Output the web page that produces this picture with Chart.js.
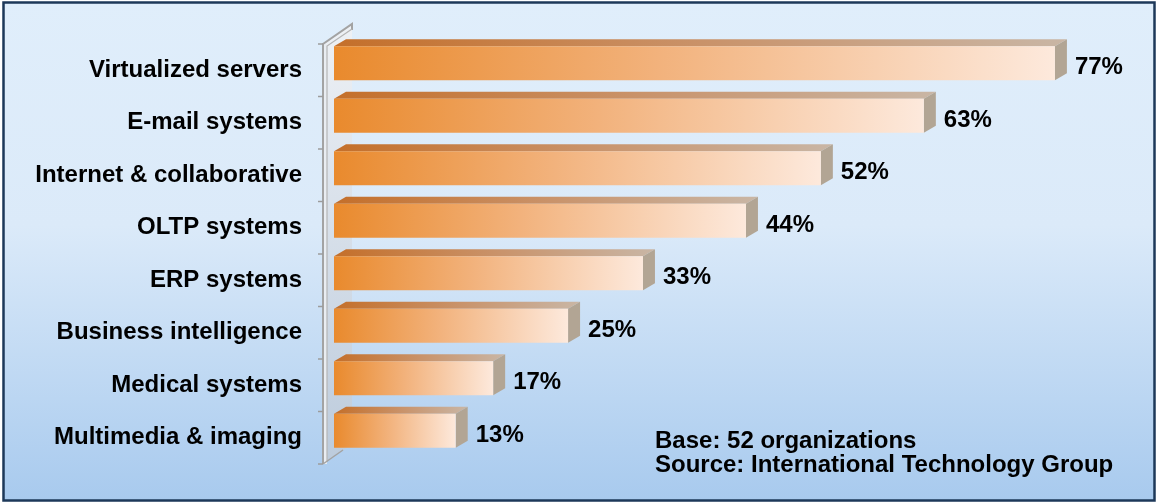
<!DOCTYPE html>
<html>
<head>
<meta charset="utf-8">
<script src="https://cdn.jsdelivr.net/npm/chart.js@4.4.1/dist/chart.umd.min.js"></script>
<style>
  html, body { margin: 0; padding: 0; background: #ffffff; }
  #wrap { width: 1156px; height: 504px; position: relative; }
</style>
</head>
<body>
<div id="wrap"><canvas id="c" width="1156" height="504"></canvas></div>
<script>
// ---- data ----
const categories = [
  'Virtualized servers',
  'E-mail systems',
  'Internet & collaborative',
  'OLTP systems',
  'ERP systems',
  'Business intelligence',
  'Medical systems',
  'Multimedia & imaging'
];
const values = [77, 63, 52, 44, 33, 25, 17, 13];
const noteLines = ['Base: 52 organizations', 'Source: International Technology Group'];

// ---- style ----
const FONT = '"Liberation Sans", Arial, "DejaVu Sans", sans-serif';
const DX = 12, DY = 7;          // bar depth
const WDX = 29, WDY = 20;       // wall depth
const LABEL_SHIFT = 7;          // category plane vs bar front plane

const bgPlugin = {
  id: 'bg',
  beforeDraw(chart) {
    const ctx = chart.ctx;
    const W = chart.width, H = chart.height;
    ctx.save();
    ctx.fillStyle = '#ffffff';
    ctx.fillRect(0, 0, W, H);
    const g = ctx.createLinearGradient(0, 0, 0, 501);
    g.addColorStop(0, '#e0eefb');
    g.addColorStop(0.45, '#dbeaf9');
    g.addColorStop(1, '#a8caee');
    ctx.fillStyle = g;
    ctx.fillRect(3, 2, 1151, 499);
    ctx.strokeStyle = '#1d3859';
    ctx.lineWidth = 2.5;
    ctx.strokeRect(3.5, 2.5, 1151, 498);
    ctx.restore();
  }
};

const wallPlugin = {
  id: 'wall',
  beforeDatasetsDraw(chart) {
    const ctx = chart.ctx;
    const area = chart.chartArea;
    const fx = area.left - 11;
    const top = area.top + LABEL_SHIFT;
    const bot = area.bottom + LABEL_SHIFT;
    ctx.save();
    // wall face
    const wg = ctx.createLinearGradient(0, top - WDY, 0, bot);
    wg.addColorStop(0, '#eef1f5');
    wg.addColorStop(1, '#bccbdc');
    ctx.beginPath();
    ctx.moveTo(fx, top);
    ctx.lineTo(fx + WDX, top - WDY);
    ctx.lineTo(fx + WDX, bot - WDY);
    ctx.lineTo(fx, bot);
    ctx.closePath();
    ctx.fillStyle = wg;
    ctx.fill();
    // slab front strip
    ctx.fillStyle = '#e9edf2';
    ctx.fillRect(fx, top, 4, bot - top);
    ctx.strokeStyle = '#a3a3a3';
    ctx.lineWidth = 2;
    ctx.beginPath();
    ctx.moveTo(fx, bot);
    ctx.lineTo(fx, top);
    ctx.lineTo(fx + WDX, top - WDY);
    ctx.lineTo(fx + WDX, top - WDY + 6);
    ctx.stroke();
    ctx.lineWidth = 1.2;
    ctx.strokeStyle = '#b5b5b5';
    ctx.beginPath();
    ctx.moveTo(fx + 4, bot - 2);
    ctx.lineTo(fx + 4, top + 2);
    ctx.lineTo(fx + WDX, top - WDY + 5);
    ctx.stroke();
    ctx.strokeStyle = '#a3a3a3';
    ctx.lineWidth = 1.5;
    ctx.beginPath();
    ctx.moveTo(fx, bot);
    ctx.lineTo(fx + WDX - 9, bot - WDY + 6);
    ctx.stroke();
    // tick marks at category boundaries
    ctx.strokeStyle = '#9c9c9c';
    ctx.lineWidth = 1.5;
    const n = categories.length;
    const step = (area.bottom - area.top) / n;
    for (let i = 0; i <= n; i++) {
      const y = area.top + i * step + LABEL_SHIFT;
      ctx.beginPath();
      ctx.moveTo(fx - 5, y);
      ctx.lineTo(fx, y);
      ctx.stroke();
    }
    // top & side faces of bars
    const meta = chart.getDatasetMeta(0);
    meta.data.forEach((el) => {
      const p = el.getProps(['x', 'y', 'base', 'height'], true);
      const l = p.base, r = p.x, t = p.y - p.height / 2, b = p.y + p.height / 2;
      const tg = ctx.createLinearGradient(l, 0, r + DX, 0);
      tg.addColorStop(0, '#c46f2a');
      tg.addColorStop(0.5, '#c99269');
      tg.addColorStop(1, '#c9b6a5');
      ctx.beginPath();
      ctx.moveTo(l, t);
      ctx.lineTo(l + DX, t - DY);
      ctx.lineTo(r + DX, t - DY);
      ctx.lineTo(r, t);
      ctx.closePath();
      ctx.fillStyle = tg;
      ctx.fill();
      ctx.beginPath();
      ctx.moveTo(r, t);
      ctx.lineTo(r + DX, t - DY);
      ctx.lineTo(r + DX, b - DY);
      ctx.lineTo(r, b);
      ctx.closePath();
      ctx.fillStyle = '#b2a594';
      ctx.fill();
    });
    ctx.restore();
  },
  afterDatasetsDraw(chart) {
    const ctx = chart.ctx;
    const meta = chart.getDatasetMeta(0);
    ctx.save();
    ctx.fillStyle = '#000000';
    ctx.font = 'bold 24px ' + FONT;
    ctx.textAlign = 'left';
    ctx.textBaseline = 'alphabetic';
    meta.data.forEach((el, i) => {
      const p = el.getProps(['x', 'y'], true);
      ctx.fillText(values[i] + '%', p.x + 20, p.y + 11);
    });
    noteLines.forEach((s, i) => {
      ctx.fillText(s, 655, 448 + i * 24);
    });
    ctx.restore();
  }
};

new Chart(document.getElementById('c'), {
  type: 'bar',
  data: {
    labels: categories,
    datasets: [{
      data: values,
      borderWidth: 0,
      backgroundColor: (c) => {
        const chart = c.chart;
        const xs = chart.scales.x;
        if (!chart.chartArea || !xs || c.parsed == null) return '#ea8a2e';
        const x0 = xs.getPixelForValue(0);
        const x1 = xs.getPixelForValue(c.parsed.x);
        if (!isFinite(x0) || !isFinite(x1) || x1 <= x0) return '#ea8a2e';
        const g = chart.ctx.createLinearGradient(x0, 0, x1, 0);
        g.addColorStop(0, '#e98a2d');
        g.addColorStop(0.45, '#f2b27c');
        g.addColorStop(1, '#fde9dc');
        return g;
      }
    }]
  },
  options: {
    indexAxis: 'y',
    responsive: false,
    animation: false,
    events: [],
    layout: { padding: { left: 0, top: 37, right: 73, bottom: 47 } },
    datasets: { bar: { categoryPercentage: 0.646, barPercentage: 1 } },
    plugins: { legend: { display: false }, tooltip: { enabled: false }, title: { display: false } },
    scales: {
      x: { display: false, min: 0, max: 80 },
      y: {
        afterFit: (s) => { s.width = 334; s.paddingTop = 0; s.paddingBottom = 0; },
        grid: { display: false },
        border: { display: false },
        ticks: {
          padding: 24,
          labelOffset: LABEL_SHIFT,
          color: '#000000',
          font: { family: FONT, size: 24, weight: 'bold' }
        }
      }
    }
  },
  plugins: [bgPlugin, wallPlugin]
});
</script>
</body>
</html>
